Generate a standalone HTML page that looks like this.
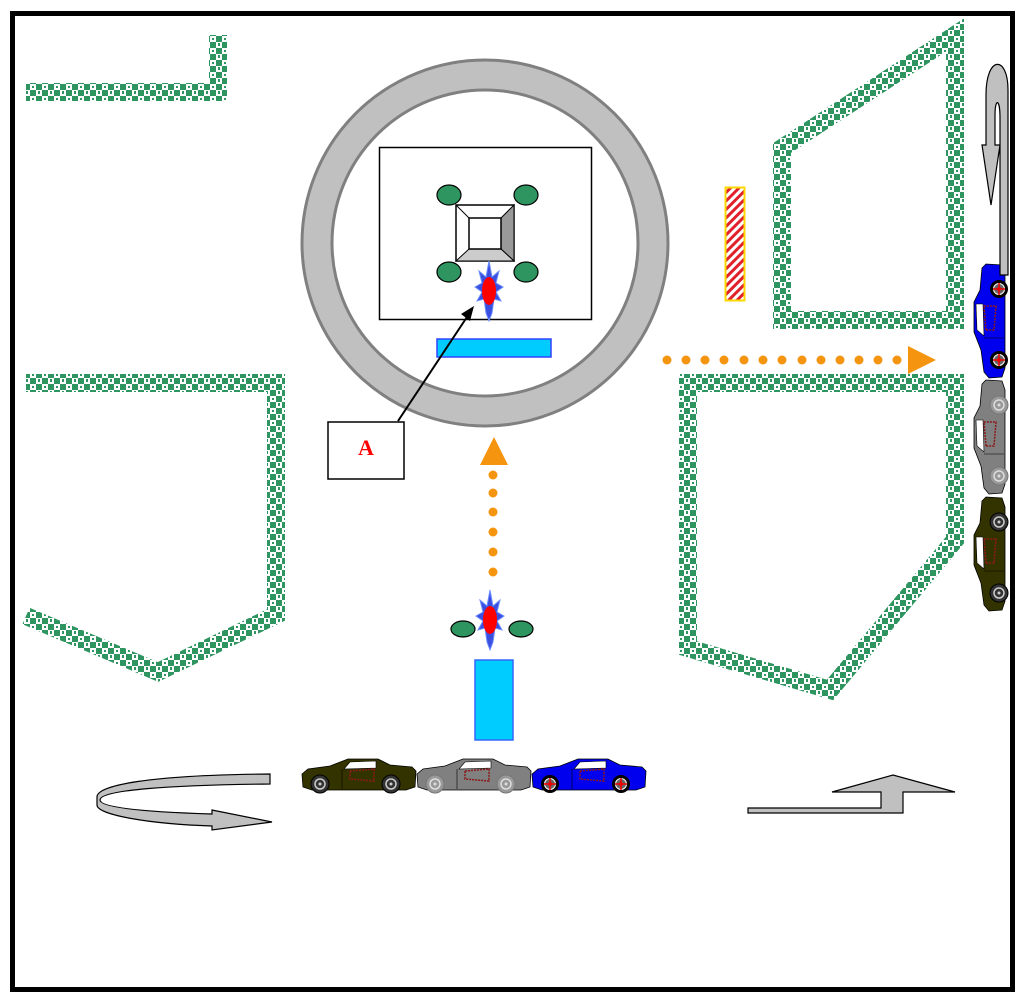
<!DOCTYPE html>
<html><head><meta charset="utf-8"><style>
html,body{margin:0;padding:0;background:#fff;}
svg{display:block;}
</style></head><body>
<svg width="1024" height="1002" viewBox="0 0 1024 1002" xmlns="http://www.w3.org/2000/svg">
<defs>
<pattern id="chk" width="12" height="12" patternUnits="userSpaceOnUse">
<rect width="12" height="12" fill="#fff"/>
<rect width="6" height="6" fill="#2e9560"/>
<rect x="6" y="6" width="6" height="6" fill="#2e9560"/>
<rect x="2" y="7" width="2" height="3" fill="#2e9560"/>
<rect x="8" y="2" width="2" height="2" fill="#2e9560"/>
</pattern>
<pattern id="stripe" width="6" height="6" patternUnits="userSpaceOnUse" patternTransform="rotate(45)">
<rect width="6" height="6" fill="#fff"/><rect width="3" height="6" fill="#e0202a"/>
</pattern>
<g id="car">
<path d="M0,17 L6,12 L28,9 L46,2 L76,2 L88,8 L110,10 L114,14 L113,30 L104,33 L10,33 L1,30 Z" stroke="#000" stroke-width="0.8"/>
<path d="M48,5 L74,4 L74,11 L42,12 Z" fill="#fff" stroke="#000" stroke-width="0.6"/>
<path d="M48,14 L72,12 L72,24 L48,22 Z" fill="none" stroke="#8b1a1a" stroke-width="1.5" stroke-dasharray="2 1"/>
<line x1="40" y1="12" x2="40" y2="32" stroke="#000" stroke-width="0.6"/>
</g>
<g id="whD"><circle r="9" fill="#333" stroke="#000"/><circle r="5" fill="none" stroke="#ccc" stroke-width="1.5"/><circle r="1.5" fill="#ccc"/></g>
<g id="whG"><circle r="9" fill="#999" stroke="#777"/><circle r="5" fill="none" stroke="#ddd" stroke-width="1.5"/><circle r="1.5" fill="#ddd"/></g>
<g id="whB"><circle r="9" fill="#000"/><circle r="5.5" fill="#666" stroke="#fff"/><circle r="2" fill="#e00"/><line x1="-6" y1="0" x2="6" y2="0" stroke="#e00" stroke-width="1.5"/><line x1="0" y1="-6" x2="0" y2="6" stroke="#e00" stroke-width="1.5"/></g>
<g id="burst">
<polygon points="0,-30 3,-14 10,-20 7,-8 14,-4 7,1 12,10 5,8 3,22 0,30 -3,22 -5,8 -12,10 -7,1 -14,-4 -7,-8 -10,-20 -3,-14" fill="#3a4fe0" stroke="#6a8cff" stroke-width="1"/>
<ellipse rx="7" ry="14" fill="#f00"/>
</g>
</defs>
<rect x="12.5" y="13.5" width="1000" height="976" fill="#fff" stroke="#000" stroke-width="5"/>

<g fill="none" stroke="url(#chk)" stroke-width="18">
<polyline points="26,92 218,92 218,35"/>
<polyline points="26,383 276,383 276,615 158,672 26,616"/>
<polygon points="955,35 955,320 782,320 782,148"/>
<polygon points="955,383 688,383 688,648 830,690 955,540"/>
</g>

<circle cx="485" cy="243" r="168" fill="none" stroke="#c0c0c0" stroke-width="30"/>
<circle cx="485" cy="243" r="183" fill="none" stroke="#808080" stroke-width="3"/>
<circle cx="485" cy="243" r="153" fill="none" stroke="#808080" stroke-width="3"/>
<rect x="379.5" y="147.5" width="212" height="172" fill="#fff" stroke="#000" stroke-width="1.5"/>
<rect x="456" y="205" width="58" height="56" fill="#fff" stroke="#000" stroke-width="1.5"/>
<polygon points="501,218 514,205 514,261 501,249" fill="#999" stroke="#000"/>
<polygon points="469,249 501,249 514,261 456,261" fill="#ccc" stroke="#000"/>
<line x1="456" y1="205" x2="469" y2="218" stroke="#000"/>
<rect x="469" y="218" width="32" height="31" fill="#fff" stroke="#000" stroke-width="1.5"/>
<g fill="#2e9560" stroke="#000" stroke-width="1.2">
<ellipse cx="449" cy="195" rx="12" ry="10"/><ellipse cx="526" cy="195" rx="12" ry="10"/>
<ellipse cx="449" cy="272" rx="12" ry="10"/><ellipse cx="526" cy="272" rx="12" ry="10"/>
</g>
<use href="#burst" x="489" y="291"/>
<rect x="437" y="339" width="114" height="18" fill="#00ccff" stroke="#3344ff" stroke-width="1.5"/>

<rect x="328" y="422" width="76" height="57" fill="#fff" stroke="#000" stroke-width="1.5"/>
<text x="366" y="455" font-family="Liberation Serif, serif" font-size="22" font-weight="bold" fill="#f00" text-anchor="middle">A</text>
<line x1="398" y1="421" x2="467" y2="317" stroke="#000" stroke-width="2"/>
<polygon points="474,306 461,314 470,321" fill="#000"/>

<g fill="#f5950f">
<circle cx="493" cy="572" r="4.5"/><circle cx="493" cy="552" r="4.5"/><circle cx="493" cy="532" r="4.5"/><circle cx="493" cy="512" r="4.5"/><circle cx="493" cy="493" r="4.5"/><circle cx="493" cy="475" r="4.5"/>
<polygon points="480,465 508,465 494,437"/>
<circle cx="667" cy="360" r="4.5"/><circle cx="686" cy="360" r="4.5"/><circle cx="705" cy="360" r="4.5"/><circle cx="724" cy="360" r="4.5"/><circle cx="744" cy="360" r="4.5"/><circle cx="763" cy="360" r="4.5"/><circle cx="782" cy="360" r="4.5"/><circle cx="802" cy="360" r="4.5"/><circle cx="821" cy="360" r="4.5"/><circle cx="840" cy="360" r="4.5"/><circle cx="859" cy="360" r="4.5"/><circle cx="878" cy="360" r="4.5"/><circle cx="897" cy="360" r="4.5"/>
<polygon points="908,346 908,374 936,360"/>
</g>

<use href="#burst" x="490" y="620"/>
<g fill="#2e9560" stroke="#000" stroke-width="1.2">
<ellipse cx="463" cy="629" rx="12" ry="8"/><ellipse cx="521" cy="629" rx="12" ry="8"/>
</g>
<rect x="475" y="660" width="38" height="80" fill="#00ccff" stroke="#3366ff" stroke-width="1.5"/>

<rect x="725.5" y="187.5" width="19" height="113" fill="url(#stripe)" stroke="#ffd700" stroke-width="2"/>

<g transform="translate(302,757)"><use href="#car" fill="#333300"/><use href="#whD" x="18" y="27"/><use href="#whD" x="89" y="27"/></g>
<g transform="translate(417,757)"><use href="#car" fill="#808080"/><use href="#whG" x="18" y="27"/><use href="#whG" x="89" y="27"/></g>
<g transform="translate(532,757)"><use href="#car" fill="#0000ee"/><use href="#whB" x="18" y="27"/><use href="#whB" x="89" y="27"/></g>

<g transform="translate(972,378) rotate(-90)"><use href="#car" fill="#0000ee"/><use href="#whB" x="18" y="27"/><use href="#whB" x="89" y="27"/></g>
<g transform="translate(972,494) rotate(-90)"><use href="#car" fill="#808080"/><use href="#whG" x="18" y="27"/><use href="#whG" x="89" y="27"/></g>
<g transform="translate(972,611) rotate(-90)"><use href="#car" fill="#333300"/><use href="#whD" x="18" y="27"/><use href="#whD" x="89" y="27"/></g>

<path d="M1008,275 L1008,90 C1008,55 986,55 986,95 L986,145 L982,145 L991,205 L1000,145 L995,145 L995,115 C995,98 1000,98 1000,118 L1000,275 Z" fill="#c0c0c0" stroke="#000" stroke-width="1.2"/>

<path d="M270,774 L270,784 C170,785 100,790 100,800 C100,808 150,812 212,814 L212,810 L272,822 L212,830 L212,826 C150,824 97,815 97,805 L97,797 C97,785 150,775 270,774 Z" fill="#c0c0c0" stroke="#000" stroke-width="1.2"/>

<polygon points="748,808 881,808 881,792 832,792 893,775 955,792 903,792 903,813 748,813" fill="#c0c0c0" stroke="#000" stroke-width="1.2"/>
</svg>
</body></html>
